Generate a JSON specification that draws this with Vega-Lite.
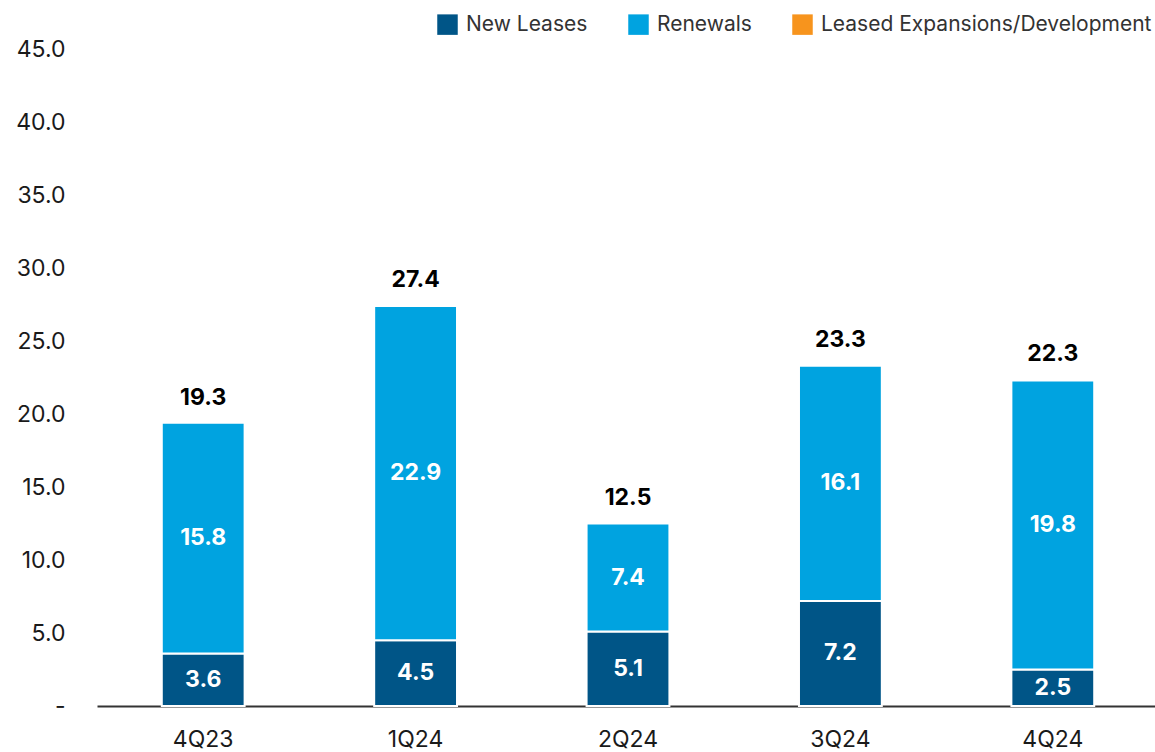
{
  "$schema": "https://vega.github.io/schema/vega-lite/v6.json",
  "width": 1062,
  "height": 657,
  "padding": {"left": 97, "top": 49, "right": 0, "bottom": 46},
  "autosize": {"type": "none"},
  "background": "white",
  "config": {"view": {"stroke": null}, "font": "Inter"},
  "datasets": {
    "segments": [
      {"quarter": "4Q23", "type": "New Leases", "value": 3.6},
      {"quarter": "4Q23", "type": "Renewals", "value": 15.8},
      {"quarter": "1Q24", "type": "New Leases", "value": 4.5},
      {"quarter": "1Q24", "type": "Renewals", "value": 22.9},
      {"quarter": "2Q24", "type": "New Leases", "value": 5.1},
      {"quarter": "2Q24", "type": "Renewals", "value": 7.4},
      {"quarter": "3Q24", "type": "New Leases", "value": 7.2},
      {"quarter": "3Q24", "type": "Renewals", "value": 16.1},
      {"quarter": "4Q24", "type": "New Leases", "value": 2.5},
      {"quarter": "4Q24", "type": "Renewals", "value": 19.8}
    ],
    "totals": [
      {"quarter": "4Q23", "total": 19.3},
      {"quarter": "1Q24", "total": 27.4},
      {"quarter": "2Q24", "total": 12.5},
      {"quarter": "3Q24", "total": 23.3},
      {"quarter": "4Q24", "total": 22.3}
    ]
  },
  "layer": [
    {
      "data": {"name": "segments"},
      "transform": [
        {"stack": "value", "groupby": ["quarter"], "sort": [{"field": "type", "order": "ascending"}], "as": ["v0", "v1"]},
        {"calculate": "(datum.v0 + datum.v1) / 2", "as": "mid"}
      ],
      "layer": [
        {
          "mark": {"type": "bar", "stroke": "white", "strokeWidth": 2},
          "encoding": {
            "x": {"field": "quarter", "type": "nominal", "sort": null,
              "scale": {"paddingInner": 0.61, "paddingOuter": 0.305},
              "axis": {"title": null, "labelAngle": 0, "labelFontSize": 23, "labelColor": "#1a1a1a", "labelPadding": 22, "ticks": false, "domainColor": "#333333", "domainWidth": 2}},
            "y": {"field": "v0", "type": "quantitative",
              "scale": {"domain": [0, 45], "nice": false},
              "axis": {"title": null, "values": [0, 5, 10, 15, 20, 25, 30, 35, 40, 45], "format": ".1f", "labelExpr": "datum.value == 0 ? '-' : datum.label", "labelFontSize": 23, "labelColor": "#1a1a1a", "labelPadding": 32, "labelOverlap": false, "labelBound": false, "ticks": false, "domain": false, "grid": false}},
            "y2": {"field": "v1"},
            "color": {"field": "type", "type": "nominal",
              "scale": {"domain": ["New Leases", "Renewals", "Leased Expansions/Development"], "range": ["#005587", "#00A3E0", "#F7941D"]},
              "legend": {"title": null, "orient": "none", "legendX": 340, "legendY": -35, "direction": "horizontal", "symbolType": "square", "symbolSize": 420, "symbolStrokeWidth": 0, "labelFontSize": 21, "labelColor": "#333333", "labelLimit": 500, "columnPadding": 40, "labelOffset": 8}}
          }
        },
        {
          "mark": {"type": "text", "color": "white", "fontWeight": "bold", "fontSize": 23, "baseline": "middle"},
          "encoding": {
            "x": {"field": "quarter", "type": "nominal", "sort": null},
            "y": {"field": "mid", "type": "quantitative"},
            "text": {"field": "value", "type": "quantitative", "format": ".1f"}
          }
        }
      ]
    },
    {
      "data": {"name": "totals"},
      "mark": {"type": "text", "color": "black", "fontWeight": "bold", "fontSize": 23, "baseline": "bottom", "dy": -14},
      "encoding": {
        "x": {"field": "quarter", "type": "nominal", "sort": null},
        "y": {"field": "total", "type": "quantitative"},
        "text": {"field": "total", "type": "quantitative", "format": ".1f"}
      }
    }
  ]
}
